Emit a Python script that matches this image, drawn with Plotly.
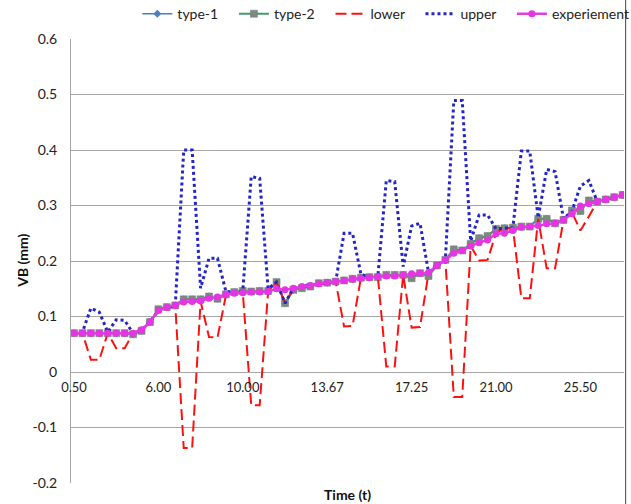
import plotly.graph_objects as go

# category index (66 time samples); only some are labelled
idx = list(range(66))
tick_pos = [0, 10, 20, 30, 40, 50, 60]
tick_lbl = ["0.50", "6.00", "10.00", "13.67", "17.25", "21.00", "25.50"]

y_tickvals = [-0.2, -0.1, 0, 0.1, 0.2, 0.3, 0.4, 0.5, 0.6]
y_ticktext = ["-0.2", "-0.1", "0", "0.1", "0.2", "0.3", "0.4", "0.5", "0.6"]

series_names = ["type-1", "type-2", "lower", "upper", "experiement"]

experiment = [0.070, 0.070, 0.070, 0.070, 0.070, 0.070, 0.070, 0.070, 0.076, 0.090,
              0.111, 0.116, 0.120, 0.126, 0.127, 0.128, 0.133, 0.135, 0.140, 0.142,
              0.143, 0.144, 0.144, 0.145, 0.150, 0.148, 0.151, 0.154, 0.156, 0.159,
              0.161, 0.163, 0.165, 0.167, 0.169, 0.170, 0.172, 0.173, 0.173, 0.175,
              0.177, 0.178, 0.179, 0.192, 0.202, 0.214, 0.219, 0.227, 0.233, 0.238,
              0.249, 0.250, 0.255, 0.261, 0.262, 0.264, 0.267, 0.268, 0.274, 0.285,
              0.299, 0.303, 0.307, 0.311, 0.315, 0.319]

type2 = [0.070, 0.070, 0.070, 0.070, 0.070, 0.070, 0.070, 0.068, 0.074, 0.090,
         0.113, 0.117, 0.120, 0.131, 0.131, 0.131, 0.136, 0.132, 0.140, 0.144,
         0.146, 0.145, 0.146, 0.146, 0.162, 0.124, 0.148, 0.151, 0.154, 0.160,
         0.161, 0.163, 0.165, 0.168, 0.170, 0.171, 0.171, 0.175, 0.175, 0.175,
         0.169, 0.178, 0.173, 0.192, 0.202, 0.221, 0.219, 0.231, 0.241, 0.245,
         0.258, 0.259, 0.260, 0.262, 0.262, 0.276, 0.276, 0.268, 0.274, 0.291,
         0.290, 0.309, 0.307, 0.311, 0.315, 0.319]

type1 = [0.070, 0.070, 0.070, 0.070, 0.070, 0.070, 0.070, 0.068, 0.074, 0.090,
         0.113, 0.117, 0.120, 0.131, 0.131, 0.131, 0.136, 0.132, 0.140, 0.144,
         0.146, 0.145, 0.146, 0.146, 0.162, 0.124, 0.148, 0.151, 0.154, 0.160,
         0.161, 0.163, 0.165, 0.168, 0.170, 0.171, 0.171, 0.175, 0.175, 0.175,
         0.169, 0.178, 0.173, 0.192, 0.202, 0.221, 0.219, 0.231, 0.241, 0.245,
         0.258, 0.259, 0.260, 0.262, 0.262, 0.276, 0.276, 0.268, 0.274, 0.291,
         0.290, 0.309, 0.307, 0.311, 0.315, 0.319]

upper = [0.070, 0.072, 0.115, 0.108, 0.072, 0.094, 0.093, 0.070, 0.076, 0.090,
         0.111, 0.116, 0.120, 0.400, 0.400, 0.151, 0.205, 0.205, 0.145, 0.144,
         0.146, 0.352, 0.349, 0.150, 0.162, 0.124, 0.151, 0.154, 0.156, 0.159,
         0.161, 0.163, 0.250, 0.250, 0.176, 0.171, 0.172, 0.345, 0.343, 0.190,
         0.263, 0.268, 0.180, 0.192, 0.202, 0.489, 0.489, 0.236, 0.283, 0.283,
         0.258, 0.259, 0.260, 0.398, 0.398, 0.278, 0.365, 0.361, 0.276, 0.290,
         0.335, 0.345, 0.307, 0.311, 0.315, 0.319]

lower = [0.070, 0.070, 0.022, 0.022, 0.070, 0.043, 0.043, 0.070, 0.076, 0.090,
         0.111, 0.116, 0.120, -0.137, -0.137, 0.127, 0.063, 0.062, 0.138, 0.142,
         0.143, -0.060, -0.060, 0.145, 0.162, 0.124, 0.151, 0.154, 0.156, 0.159,
         0.161, 0.163, 0.082, 0.083, 0.170, 0.171, 0.172, 0.010, 0.010, 0.175,
         0.080, 0.081, 0.178, 0.192, 0.202, -0.045, -0.045, 0.227, 0.201, 0.202,
         0.250, 0.259, 0.260, 0.133, 0.133, 0.276, 0.187, 0.187, 0.274, 0.288,
         0.255, 0.280, 0.307, 0.311, 0.315, 0.319]

FONT = "Lato"
PAD = "\u00a0\u00a0\u00a0"  # legend spacing


def lg(name, last=False):
    return name if last else name + PAD


fig = go.Figure()
fig.add_trace(go.Scatter(x=idx, y=type1, name=lg(series_names[0]), mode="lines+markers",
                         line=dict(color="#4A7EBB", width=1.5),
                         marker=dict(symbol="diamond", size=6, color="#4A7EBB")))
fig.add_trace(go.Scatter(x=idx, y=type2, name=lg(series_names[1]), mode="lines+markers",
                         line=dict(color="#3F9A6E", width=2),
                         marker=dict(symbol="square", size=7, color="#7A8C7E",
                                     line=dict(color="#6E7F72", width=0.5))))
fig.add_trace(go.Scatter(x=idx, y=lower, name=lg(series_names[2]), mode="lines",
                         line=dict(color="#FF1010", width=2, dash="11px,5px")))
fig.add_trace(go.Scatter(x=idx, y=upper, name=lg(series_names[3]), mode="lines",
                         line=dict(color="#2424C8", width=3, dash="3px,3px")))
fig.add_trace(go.Scatter(x=idx, y=experiment, name=lg(series_names[4], True), mode="lines+markers",
                         line=dict(color="#E23FE2", width=2.5),
                         marker=dict(symbol="circle", size=7, color="#E633E6")))

fig.update_layout(
    width=631, height=504,
    margin=dict(l=71, r=7, t=39, b=21, autoexpand=False),
    paper_bgcolor="white", plot_bgcolor="white",
    font=dict(family=FONT, size=14, color="#222222"),
    showlegend=True,
    legend=dict(orientation="h", x=0.12, xanchor="left", y=1.056, yanchor="middle",
                font=dict(family=FONT, size=14, color="#222222"),
                itemwidth=30, tracegroupgap=0,
                bgcolor="rgba(0,0,0,0)"),
    xaxis=dict(range=[-0.355, 65.165], anchor="free", position=0.25,
               tickmode="array", tickvals=tick_pos, ticktext=tick_lbl,
               showgrid=False, zeroline=False, showline=False, ticks="",
               ticklabelstandoff=6,
               tickfont=dict(family=FONT, size=13, color="#222222")),
    yaxis=dict(range=[-0.2, 0.6], tickmode="array", tickvals=y_tickvals, ticktext=y_ticktext,
               showgrid=True, gridcolor="#A6A6A6", gridwidth=1, zeroline=False,
               showline=True, linecolor="#A6A6A6", linewidth=1, ticks="",
               ticklabelstandoff=10,
               tickfont=dict(family=FONT, size=14, color="#222222")),
    annotations=[
        dict(text="<b>Time (t)</b>", xref="paper", yref="paper", x=0.5, y=-0.025,
             xanchor="center", yanchor="middle", showarrow=False,
             font=dict(family=FONT, size=14, color="#111111")),
        dict(text="<b>VB (mm)</b>", xref="paper", yref="paper", x=-0.089, y=0.5,
             xanchor="center", yanchor="middle", showarrow=False, textangle=-90,
             font=dict(family=FONT, size=14, color="#111111")),
    ],
    shapes=[dict(type="line", xref="paper", yref="paper", x0=1.003, x1=1.003,
                 y0=-0.05, y1=1.09, line=dict(color="#404040", width=1))],
)

fig.write_html("out.html")
